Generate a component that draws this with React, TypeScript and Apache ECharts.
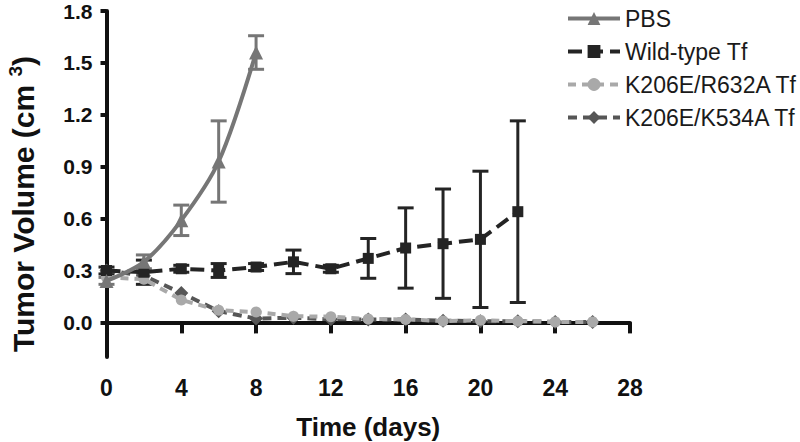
import React, { useEffect, useRef } from "react";
import * as echarts from "echarts";

const xTicks = [0, 4, 8, 12, 16, 20, 24, 28];
const yTickValues = [0, 0.3, 0.6, 0.9, 1.2, 1.5, 1.8];

const pbsDays = [0, 2, 4, 6, 8];
const pbsMean = [0.24, 0.35, 0.59, 0.93, 1.56];
const pbsErr = [0.02, 0.04, 0.088, 0.235, 0.097];

const wtDays = [0, 2, 4, 6, 8, 10, 12, 14, 16, 18, 20, 22];
const wtMean = [0.3, 0.29, 0.31, 0.3, 0.32, 0.35, 0.31, 0.37, 0.43, 0.455, 0.48, 0.64];
const wtErr = [0.02, 0.07, 0.02, 0.04, 0.02, 0.068, 0.02, 0.115, 0.232, 0.316, 0.394, 0.525];

const mutDays = [0, 2, 4, 6, 8, 10, 12, 14, 16, 18, 20, 22, 24, 26];
const r632aMean = [0.26, 0.25, 0.13, 0.07, 0.06, 0.036, 0.033, 0.02, 0.017, 0.008, 0.012, 0.007, 0.003, 0.003];
const k534aMean = [0.3, 0.27, 0.17, 0.065, 0.022, 0.027, 0.018, 0.017, 0.017, 0.01, 0.007, 0.007, 0.003, 0.003];

const names = ["PBS", "Wild-type Tf", "K206E/R632A Tf", "K206E/K534A Tf"];
const colors = ["#767676", "#242424", "#a9a9a9", "#565656"];

const FONT = "'Liberation Sans', Arial, Helvetica, sans-serif";

function pairs(xs: number[], ys: number[]) {
  return xs.map((x, i) => [x, ys[i]]);
}
function errData(xs: number[], ys: number[], es: number[]) {
  return xs.map((x, i) => [x, ys[i] - es[i], ys[i] + es[i]]);
}

function errorSeries(data: number[][], color: string) {
  return {
    type: "custom",
    silent: true,
    clip: false,
    z: 1,
    data,
    encode: { x: 0, y: [1, 2] },
    renderItem: (params: any, api: any) => {
      const x = api.value(0);
      const lo = api.value(1);
      const hi = api.value(2);
      const top = api.coord([x, hi]);
      const bot = api.coord([x, lo]);
      const hw = 8;
      const st = { stroke: color, lineWidth: 3 };
      return {
        type: "group",
        children: [
          { type: "line", shape: { x1: top[0], y1: top[1], x2: bot[0], y2: bot[1] }, style: st },
          { type: "line", shape: { x1: top[0] - hw, y1: top[1], x2: top[0] + hw, y2: top[1] }, style: st },
          { type: "line", shape: { x1: bot[0] - hw, y1: bot[1], x2: bot[0] + hw, y2: bot[1] }, style: st },
        ],
      };
    },
  };
}

export default function App() {
  const ref = useRef<HTMLDivElement>(null);
  useEffect(() => {
    if (!ref.current) return;
    const chart = echarts.init(ref.current, null, { renderer: "svg" });
    chart.setOption({
      animation: false,
      textStyle: { fontFamily: FONT },
      grid: {
        left: 106.5,
        right: 170,
        top: 11,
        bottom: 85,
        containLabel: false,
        outerBoundsMode: "none",
      },
      legend: {
        data: names,
        orient: "vertical",
        left: 561,
        top: 1,
        itemWidth: 52,
        itemHeight: 16,
        itemGap: 8,
        lineStyle: { width: 4 },
        textStyle: { fontFamily: FONT, fontSize: 23, color: "#1a1a1a", lineHeight: 25 },
      },
      xAxis: {
        type: "value",
        min: 0,
        max: 28,
        interval: 4,
        splitLine: { show: false },
        axisLine: { show: true, lineStyle: { color: "#111", width: 4 } },
        axisTick: { show: true, inside: false, length: 11, lineStyle: { color: "#111", width: 4 } },
        axisLabel: { fontFamily: FONT, fontSize: 23, fontWeight: "bold", color: "#111", margin: 19 },
        name: "Time (days)",
        nameLocation: "middle",
        nameGap: 57,
        nameTextStyle: { fontFamily: FONT, fontSize: 26, fontWeight: "bold", color: "#111", lineHeight: 26 },
      },
      yAxis: {
        type: "value",
        min: -0.2,
        max: 1.8,
        splitLine: { show: false },
        axisLine: { show: true, onZero: false, lineStyle: { color: "#111", width: 4 } },
        axisTick: {
          show: true,
          inside: false,
          length: 6,
          customValues: yTickValues,
          lineStyle: { color: "#111", width: 4 },
        },
        axisLabel: {
          fontFamily: FONT,
          fontSize: 21,
          fontWeight: "bold",
          color: "#111",
          margin: 14,
          lineHeight: 20,
          customValues: yTickValues,
          formatter: (v: number) => v.toFixed(1),
        },
      },
      graphic: [
        {
          type: "text",
          x: 23,
          y: 204,
          rotation: Math.PI / 2,
          style: {
            text: "Tumor Volume (cm {sup|3})",
            font: `bold 30px ${FONT}`,
            fill: "#111",
            align: "center",
            verticalAlign: "middle",
            rich: {
              sup: { fontSize: 19, fontWeight: "bold", fontFamily: FONT, verticalAlign: "top", padding: [0, 0, 15, 0], fill: "#111" },
            },
          },
        },
      ],
      series: [
        errorSeries(errData(wtDays, wtMean, wtErr), colors[1]),
        errorSeries(errData(pbsDays, pbsMean, pbsErr), colors[0]),
        {
          name: names[3],
          type: "line",
          z: 3,
          data: pairs(mutDays, k534aMean),
          symbol: "diamond",
          symbolSize: 14,
          itemStyle: { color: colors[3] },
          lineStyle: { color: colors[3], width: 4, type: [9, 6] },
        },
        {
          name: names[2],
          type: "line",
          z: 4,
          data: pairs(mutDays, r632aMean),
          symbol: "circle",
          symbolSize: 11,
          itemStyle: { color: colors[2] },
          lineStyle: { color: colors[2], width: 4, type: [8, 6] },
        },
        {
          name: names[1],
          type: "line",
          z: 5,
          data: pairs(wtDays, wtMean),
          symbol: "rect",
          symbolSize: 11,
          itemStyle: { color: colors[1] },
          lineStyle: { color: colors[1], width: 4, type: [14, 7] },
        },
        {
          name: names[0],
          type: "line",
          z: 6,
          smooth: 0.3,
          data: pairs(pbsDays, pbsMean),
          symbol: "triangle",
          symbolSize: 14,
          itemStyle: { color: colors[0] },
          lineStyle: { color: colors[0], width: 4 },
        },
      ],
    });
    return () => chart.dispose();
  }, []);
  return (
    <div
      ref={ref}
      style={{ position: "fixed", left: 0, top: 0, width: 800, height: 442, background: "#fff" }}
    />
  );
}
